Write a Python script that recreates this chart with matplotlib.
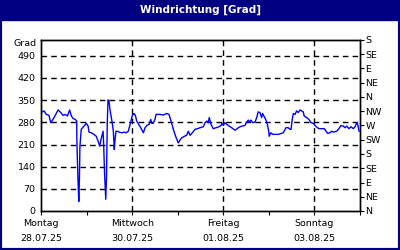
import matplotlib.pyplot as plt
from matplotlib.patches import Rectangle

# Stunden ab Montag 28.07.25 00:00 und Windrichtung in Grad
stunden = [0, 1.6, 2.8, 4.2, 5.1, 6.3, 7.5, 9.0, 10.4, 11.6, 12.8, 13.9, 15.1, 16.0,
           16.9, 18.1, 18.8, 18.9, 19.5, 19.9, 20.2, 20.5, 21.2, 22.6, 23.9, 24.8,
           25.3, 26.5, 27.8, 29.1, 30.4, 30.9, 31.8, 32.7, 33.0, 33.5, 34.1, 34.5,
           34.9, 35.3, 35.8, 36.3, 36.9, 37.5, 38.1, 38.6, 39.0, 39.5, 40.2, 41.2,
           42.5, 43.7, 44.8, 46.0, 46.9, 47.4, 48.1, 49.0, 49.7, 50.4, 51.8, 53.0,
           53.9, 54.8, 55.7, 57.0, 57.8, 58.3, 59.1, 60.0, 60.6, 61.8, 62.7, 64.4,
           66.2, 67.4, 68.5, 69.7, 70.9, 72.3, 73.2, 74.1, 75.5, 76.7, 77.6, 78.5,
           79.7, 81.1, 82.5, 83.7, 85.5, 86.4, 87.3, 88.1, 88.6, 89.5, 90.7, 92.2,
           93.7, 94.8, 95.3, 96.0, 96.9, 98.6, 100.4, 102.2, 103.9, 105.7, 107.4,
           108.3, 109.2, 109.7, 110.6, 111.5, 112.7, 113.6, 114.4, 115.3, 116.2,
           116.7, 117.4, 118.5, 119.2, 119.9, 120.2, 121.0, 122.0, 125.0, 127.6,
           129.0, 130.2, 131.1, 131.7, 132.3, 132.9, 133.8, 134.6, 135.5, 136.4,
           137.3, 138.1, 138.6, 139.9, 141.1, 142.2, 143.4, 144.3, 145.5, 146.6,
           149.2, 150.1, 151.0, 152.2, 153.1, 153.9, 155.7, 156.9, 158.0, 159.2,
           160.1, 161.0, 162.2, 163.2, 164.5, 165.4, 166.3, 166.8, 167.5]
richtung = [311, 316, 305, 302, 279, 289, 302, 319, 311, 302, 305, 300, 319, 300,
            292, 289, 284, 220, 93, 30, 93, 205, 258, 268, 277, 268,
            249, 247, 242, 236, 215, 205, 231, 252, 210, 115, 37, 109,
            279, 351, 348, 321, 300, 279, 252, 194, 226, 252, 252, 249,
            247, 249, 247, 252, 274, 287, 302, 308, 302, 284, 270, 258,
            247, 263, 270, 274, 289, 277, 277, 289, 305, 305, 305, 303,
            308, 305, 284, 258, 236, 215, 224, 231, 236, 239, 252, 239,
            247, 258, 260, 263, 266, 279, 284, 279, 295, 274, 260, 263,
            266, 270, 277, 270, 279, 270, 263, 255, 263, 268, 270,
            281, 287, 281, 287, 279, 281, 295, 313, 311, 295,
            308, 300, 287, 274, 252, 236, 247, 242, 242, 247,
            263, 263, 258, 258, 289, 308, 305, 316, 311, 319,
            316, 313, 300, 295, 289, 279, 277, 270, 263, 260,
            260, 252, 245, 247, 252, 249, 252, 260, 270, 268,
            263, 268, 260, 266, 260, 266, 279, 274, 252]

y_ticks = [0, 70, 140, 210, 280, 350, 420, 490]
himmelsrichtungen = ['N', 'NE', 'E', 'SE', 'S', 'SW', 'W', 'NW',
                     'N', 'NE', 'E', 'SE', 'S']
tag_labels = ['Montag\n28.07.25', 'Mittwoch\n30.07.25',
              'Freitag\n01.08.25', 'Sonntag\n03.08.25']

navy = '#000080'
fs = 6.8

fig = plt.figure(figsize=(4, 2.5), dpi=100, facecolor='white')
fig.patches.append(Rectangle((0, 0), 1, 1, transform=fig.transFigure,
                             facecolor='none', edgecolor=navy, linewidth=3, zorder=5))
fig.patches.append(Rectangle((0, 0.92), 1, 0.08, transform=fig.transFigure,
                             facecolor=navy, edgecolor=navy, zorder=5))
fig.text(0.5, 0.962, 'Windrichtung [Grad]', color='white', fontsize=7.5,
         fontweight='bold', ha='center', va='center', zorder=6)

ax = fig.add_axes([0.1025, 0.156, 0.7975, 0.684])
ax.plot(stunden, richtung, color='#0000ff', linewidth=1, zorder=3)

ax.set_xlim(0, 168)
ax.set_ylim(0, 540)

ax.set_yticks(y_ticks)
ax.tick_params(axis='y', labelsize=fs, length=0, pad=4)
for y in y_ticks[1:]:
    ax.axhline(y, color='black', linestyle=(0, (4, 3)), linewidth=1, zorder=1)
for x in [48, 96, 144]:
    ax.axvline(x, color='black', linestyle=(0, (4, 3)), linewidth=1, zorder=1)

ax.set_xticks(range(0, 169, 24))
ax.set_xticklabels([tag_labels[i // 2] if i % 2 == 0 else '' for i in range(8)],
                   linespacing=1.75)
ax.tick_params(axis='x', labelsize=fs, length=3, pad=3)

ax.text(-0.015, 530, 'Grad', transform=ax.get_yaxis_transform(),
        ha='right', va='center', fontsize=fs)

ax2 = ax.twinx()
ax2.set_ylim(0, 540)
ax2.set_yticks(range(0, 541, 45))
ax2.set_yticklabels(himmelsrichtungen)
ax2.tick_params(axis='y', labelsize=fs, length=3, pad=1)

for a in (ax, ax2):
    for s in a.spines.values():
        s.set_linewidth(1)
        s.set_color('black')

fig.savefig('out.png', dpi=100)
